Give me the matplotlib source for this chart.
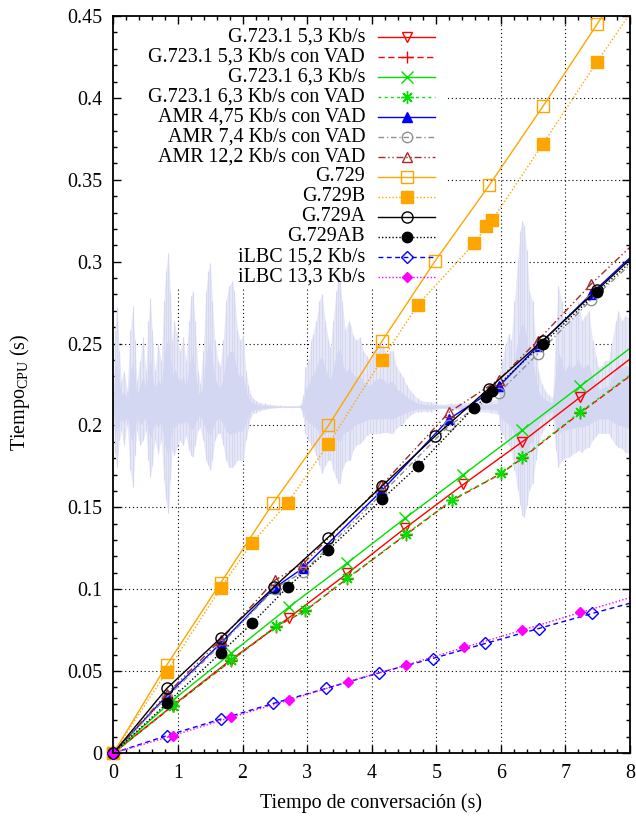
import numpy as np
import matplotlib
matplotlib.use("Agg")
import matplotlib.pyplot as plt
from matplotlib.lines import Line2D
from matplotlib.patches import Rectangle
from matplotlib.ticker import MultipleLocator, FormatStrFormatter

plt.rcParams['font.family'] = ['Liberation Serif', 'DejaVu Serif']
plt.rcParams['mathtext.fontset'] = 'custom'
plt.rcParams['mathtext.rm'] = 'Liberation Serif'
plt.rcParams['mathtext.it'] = 'Liberation Serif:italic'

# ---------------- data: CPU time vs. conversation time ----------------
t_g7231 = [0, 0.92, 1.82, 2.72, 3.62, 4.52, 5.42, 6.33, 7.23, 8.13]
g7231_53 = [0, 0.029, 0.057, 0.0827, 0.1096, 0.1374, 0.164, 0.190, 0.2173, 0.2445]
g7231_63 = [0, 0.0323, 0.0608, 0.0892, 0.116, 0.1435, 0.170, 0.197, 0.224, 0.251]

t_g7231_vad = [0, 0.92, 1.82, 2.51, 2.97, 3.62, 4.53, 5.25, 6.0, 6.33, 7.23, 8.13]
g7231_53_vad = [0, 0.0287, 0.0563, 0.077, 0.0868, 0.1065, 0.1333, 0.1543, 0.1705, 0.180, 0.2077, 0.234]
g7231_63_vad = [0, 0.0290, 0.0566, 0.0773, 0.0871, 0.1068, 0.1336, 0.1547, 0.1708, 0.1805, 0.2082, 0.2345]

t_amr = [0, 0.825, 1.66, 2.50, 2.94, 4.15, 5.20, 5.97, 6.57, 7.40, 8.30]
amr_475 = [0, 0.035, 0.067, 0.101, 0.113, 0.160, 0.204, 0.2238, 0.2484, 0.2803, 0.3135]
amr_74 = [0, 0.034, 0.066, 0.1004, 0.1106, 0.158, 0.200, 0.220, 0.2437, 0.2767, 0.3087]
amr_122 = [0, 0.036, 0.069, 0.1055, 0.1157, 0.1634, 0.2081, 0.228, 0.2518, 0.2864, 0.320]

t_g729 = [0, 0.825, 1.662, 2.478, 3.33, 4.158, 4.984, 5.82, 6.654, 7.49, 8.32]
g729 = [0, 0.0537, 0.104, 0.1529, 0.200, 0.2514, 0.3006, 0.3467, 0.395, 0.445, 0.495]

t_g729b = [0, 0.825, 1.662, 2.143, 2.70, 3.33, 4.158, 4.716, 5.589, 5.775, 5.868, 6.654, 7.49, 8.32]
g729b = [0, 0.0496, 0.1008, 0.1282, 0.1529, 0.1888, 0.2402, 0.2738, 0.3112, 0.3215, 0.3256, 0.3721, 0.422, 0.470]

t_g729a = [0, 0.825, 1.662, 2.488, 3.32, 4.158, 4.984, 5.81, 6.648, 7.49, 8.32]
g729a = [0, 0.0394, 0.0703, 0.1014, 0.1315, 0.163, 0.1935, 0.2224, 0.2518, 0.2827, 0.313]

t_g729ab = [0, 0.825, 1.662, 2.143, 2.70, 3.32, 4.158, 4.716, 5.578, 5.77, 5.864, 6.648, 7.49, 8.32]
g729ab = [0, 0.0303, 0.0612, 0.0791, 0.1014, 0.1238, 0.1549, 0.1752, 0.2108, 0.2173, 0.2213, 0.2498, 0.2813, 0.311]

t_ilbc15 = [0, 0.825, 1.662, 2.478, 3.295, 4.12, 4.943, 5.76, 6.586, 7.414, 8.24]
ilbc15 = [0, 0.0106, 0.0207, 0.0303, 0.0394, 0.049, 0.0577, 0.0669, 0.076, 0.0852, 0.094]

t_ilbc13 = [0, 0.918, 1.822, 2.726, 3.625, 4.535, 5.434, 6.33, 7.233, 8.14]
ilbc13 = [0, 0.0106, 0.0218, 0.0323, 0.0435, 0.0537, 0.0645, 0.075, 0.0858, 0.0965]

labels = [
    "G.723.1 5,3 Kb/s", "G.723.1 5,3 Kb/s con VAD", "G.723.1 6,3 Kb/s",
    "G.723.1 6,3 Kb/s con VAD", "AMR 4,75 Kb/s con VAD", "AMR 7,4 Kb/s con VAD",
    "AMR 12,2 Kb/s con VAD", "G.729", "G.729B", "G.729A", "G.729AB",
    "iLBC 15,2 Kb/s", "iLBC 13,3 Kb/s",
]

# speech signal envelope drawn behind the curves (time, upper, lower)
wave_t = [0.00, 0.02, 0.05, 0.09, 0.12, 0.16, 0.21, 0.26, 0.30, 0.33, 0.36, 0.41, 0.46, 0.50,
          0.54, 0.57, 0.60, 0.64, 0.69, 0.74, 0.78, 0.81, 0.85, 0.88, 0.91, 0.94, 0.98, 1.03,
          1.08, 1.12, 1.17, 1.20, 1.23, 1.26, 1.31, 1.34, 1.39, 1.43, 1.47, 1.50, 1.53, 1.57,
          1.62, 1.65, 1.70, 1.74, 1.79, 1.84, 1.87, 1.92, 1.96, 2.01, 2.05, 2.09, 2.12, 2.16,
          2.21, 2.27, 2.35, 2.43, 2.58, 2.89, 2.94, 2.97, 3.02, 3.06, 3.09, 3.14, 3.19, 3.23,
          3.28, 3.33, 3.36, 3.40, 3.45, 3.48, 3.51, 3.54, 3.59, 3.64, 3.67, 3.71, 3.76, 3.82,
          3.87, 3.92, 3.98, 4.02, 4.07, 4.13, 4.18, 4.23, 4.29, 4.33, 4.38, 4.44, 4.49, 4.54,
          4.60, 4.64, 4.71, 4.77, 4.85, 4.92, 5.00, 5.08, 5.23, 5.39, 5.53, 5.68, 5.84, 5.96,
          5.99, 6.02, 6.07, 6.12, 6.16, 6.21, 6.26, 6.30, 6.33, 6.36, 6.40, 6.44, 6.49, 6.54,
          6.58, 6.63, 6.69, 6.74, 6.80, 6.85, 6.89, 6.94, 6.98, 7.05, 7.09, 7.16, 7.20, 7.25,
          7.31, 7.36, 7.42, 7.47, 7.51, 7.56, 7.62, 7.67, 7.71, 7.78, 7.82, 7.87, 7.93, 7.98,
          8.00]
wave_hi = [0.2152, 0.258, 0.2726, 0.2457, 0.2274, 0.2335, 0.2213, 0.258, 0.273, 0.252, 0.2274,
           0.2396, 0.2537, 0.2335, 0.264, 0.278, 0.258, 0.2335, 0.250, 0.2396, 0.276, 0.2945,
           0.305, 0.282, 0.252, 0.264, 0.256, 0.2457, 0.2537, 0.2396, 0.264, 0.279, 0.282,
           0.264, 0.2335, 0.2256, 0.2457, 0.282, 0.2945, 0.299, 0.276, 0.252, 0.2396, 0.2366,
           0.252, 0.276, 0.285, 0.288, 0.282, 0.258, 0.252, 0.255, 0.2335, 0.2244, 0.2195,
           0.2165, 0.2152, 0.214, 0.2134, 0.2128, 0.2122, 0.2122, 0.2183, 0.2354, 0.2396, 0.252,
           0.256, 0.264, 0.276, 0.280, 0.264, 0.252, 0.2476, 0.264, 0.282, 0.288, 0.288, 0.276,
           0.258, 0.264, 0.262, 0.255, 0.252, 0.2537, 0.2457, 0.2427, 0.2396, 0.2457, 0.249,
           0.250, 0.249, 0.2427, 0.2457, 0.2457, 0.2366, 0.2323, 0.2293, 0.2244, 0.2213, 0.2195,
           0.2165, 0.2152, 0.2146, 0.2146, 0.2134, 0.2128, 0.2134, 0.214, 0.214, 0.2146, 0.2152,
           0.2165, 0.2335, 0.2396, 0.249, 0.256, 0.252, 0.276, 0.301, 0.319, 0.325, 0.322, 0.307,
           0.282, 0.276, 0.252, 0.2335, 0.2256, 0.2213, 0.2183, 0.2171, 0.258, 0.285, 0.276,
           0.258, 0.270, 0.264, 0.270, 0.276, 0.264, 0.267, 0.270, 0.252, 0.2427, 0.2354, 0.2366,
           0.2396, 0.2396, 0.249, 0.264, 0.270, 0.264, 0.267, 0.266, 0.264]
wave_lo = [0.2073, 0.1829, 0.1744, 0.1909, 0.1970, 0.1878, 0.2000, 0.1726, 0.1622, 0.1817, 0.1970,
           0.1878, 0.1909, 0.1970, 0.1787, 0.1683, 0.1756, 0.1909, 0.1829, 0.1909, 0.1665, 0.1543,
           0.1463, 0.1665, 0.1848, 0.1817, 0.1866, 0.1909, 0.1878, 0.1939, 0.1848, 0.1817, 0.1805,
           0.1878, 0.1970, 0.1988, 0.1909, 0.1787, 0.1756, 0.1726, 0.1787, 0.1909, 0.1951, 0.1951,
           0.1878, 0.1787, 0.1744, 0.1744, 0.1756, 0.1787, 0.1787, 0.1787, 0.1909, 0.1982, 0.2043,
           0.2073, 0.2079, 0.2091, 0.2098, 0.2104, 0.2110, 0.2110, 0.2049, 0.1951, 0.1909, 0.1878,
           0.1866, 0.1817, 0.1756, 0.1707, 0.1756, 0.1787, 0.1787, 0.1726, 0.1677, 0.1646, 0.1646,
           0.1726, 0.1775, 0.1787, 0.1787, 0.1848, 0.1878, 0.1890, 0.1909, 0.1939, 0.1951, 0.1951,
           0.1951, 0.1951, 0.1957, 0.1957, 0.1951, 0.1951, 0.1982, 0.2000, 0.2012, 0.2043, 0.2061,
           0.2073, 0.2085, 0.2085, 0.2085, 0.2085, 0.2098, 0.2104, 0.2098, 0.2091, 0.2091, 0.2085,
           0.2079, 0.2067, 0.1970, 0.1945, 0.1909, 0.1878, 0.1848, 0.1726, 0.1604, 0.1512, 0.1451,
           0.1439, 0.1512, 0.1604, 0.1646, 0.1787, 0.1878, 0.1951, 0.2000, 0.2031, 0.2049, 0.1848,
           0.1744, 0.1787, 0.1799, 0.1805, 0.1817, 0.1835, 0.1848, 0.1835, 0.1860, 0.1866, 0.1909,
           0.1933, 0.1951, 0.1951, 0.1951, 0.1951, 0.1921, 0.1878, 0.1866, 0.1860, 0.1835, 0.1829,
           0.1848]
wave_mid = 0.2113

# ---------------- styles ----------------
series = [
    (t_g7231, g7231_53, dict(color='#ff0000', ls='-', marker='v', mfc='none', ms=7.5)),
    (t_g7231_vad, g7231_53_vad, dict(color='#ff0000', ls=(0, (4.5, 2.5)), marker='+', ms=9)),
    (t_g7231, g7231_63, dict(color='#00e000', ls='-', marker='x', ms=8)),
    (t_g7231_vad, g7231_63_vad, dict(color='#00e000', ls=(0, (2, 2.5)), marker=(8, 2, 0), ms=9)),
    (t_amr, amr_475, dict(color='#0000ff', ls='-', marker='^', ms=6.5)),
    (t_amr, amr_74, dict(color='#909090', ls=(0, (4, 2, 1, 2)), marker='o', mfc='none', ms=7.5)),
    (t_amr, amr_122, dict(color='#a52a2a', ls=(0, (5, 2, 1, 2, 1, 2)), marker='^', mfc='none', ms=7.5)),
    (t_g729, g729, dict(color='#ffa500', ls='-', marker='s', mfc='none', ms=8.5)),
    (t_g729b, g729b, dict(color='#ffa500', ls=(0, (1, 1.5)), marker='s', ms=8)),
    (t_g729a, g729a, dict(color='#000000', ls='-', marker='o', mfc='none', ms=8)),
    (t_g729ab, g729ab, dict(color='#000000', ls=(0, (1, 1.5)), marker='o', ms=7.5)),
    (t_ilbc15, ilbc15, dict(color='#0000ff', ls=(0, (3.5, 2.5)), marker='D', mfc='none', ms=6)),
    (t_ilbc13, ilbc13, dict(color='#ff00ff', ls=(0, (1, 1.5)), marker='D', ms=5.5)),
]

FS = 14.4
fig = plt.figure(figsize=(6.36, 8.16), dpi=100)
ax = fig.add_axes([113.5 / 636, 1 - 753 / 816, 516.5 / 636, 737 / 816])
ax.set_xlim(0, 8)
ax.set_ylim(0, 0.45)

# grid, with the key area kept clear
grid_kw = dict(color='black', lw=0.8, ls=(0, (1, 2.5)), zorder=1)
for gx in range(1, 8):
    ax.axvline(gx, **grid_kw)
for gy in np.arange(0.05, 0.449, 0.05):
    ax.axhline(gy, **grid_kw)
ax.add_patch(Rectangle((0, 0.284), 5.17, 0.2, facecolor='white', edgecolor='none', zorder=1.5))

# speech signal in the background
wt = np.array(wave_t)
whi = np.array(wave_hi)
wlo = np.array(wave_lo)
ax.fill_between(wt, wlo, whi, color='#e6e7f7', lw=0, zorder=2)
ax.vlines(wt, wlo, whi, color='#d6d8f2', lw=0.8, zorder=2.05)
ax.fill_between(wt, wave_mid + 0.45 * (wlo - wave_mid), wave_mid + 0.45 * (whi - wave_mid),
                color='#d4d7f1', lw=0, zorder=2.1)

# curves
for i, (tx, ty, st) in enumerate(series):
    st = dict(st)
    marker = st.pop('marker')
    ms = st.pop('ms')
    mfc = st.pop('mfc', st['color'])
    ax.plot(tx, ty, color=st['color'], ls=st['ls'], lw=1.0, zorder=3 + i * 0.1)
    ax.plot(tx[:-1], ty[:-1], ls='none', marker=marker, ms=ms, mfc=mfc,
            mec=st['color'], mew=1.0, zorder=3.05 + i * 0.1, clip_on=False)

# key
for i, (lab, (tx, ty, st)) in enumerate(zip(labels, series)):
    st = dict(st)
    py = 36.7 + 20 * i
    ya = (753 - py) / 737
    xt = (365 - 113.5) / 516.5
    x1 = (378 - 113.5) / 516.5
    x2 = (435 - 113.5) / 516.5
    xm = (407 - 113.5) / 516.5
    ax.text(xt, ya, lab, transform=ax.transAxes, ha='right', va='center',
            fontsize=FS, zorder=10)
    ax.add_line(Line2D([x1, x2], [ya, ya], transform=ax.transAxes, color=st['color'],
                       ls=st['ls'], lw=1.0, zorder=10))
    ax.add_line(Line2D([xm], [ya], transform=ax.transAxes, ls='none', marker=st['marker'],
                       ms=st['ms'], mfc=st.get('mfc', st['color']), mec=st['color'],
                       mew=1.0, zorder=10))

# axes and ticks
for sp in ax.spines.values():
    sp.set_linewidth(1.3)
    sp.set_zorder(12)
ax.xaxis.set_major_locator(MultipleLocator(1))
ax.xaxis.set_minor_locator(MultipleLocator(0.2))
ax.yaxis.set_major_locator(MultipleLocator(0.05))
ax.yaxis.set_minor_locator(MultipleLocator(0.01))
ax.yaxis.set_major_formatter(FormatStrFormatter('%g'))
ax.xaxis.set_major_formatter(FormatStrFormatter('%g'))
ax.tick_params(which='both', direction='in', top=True, right=True, labelsize=FS, width=1.0)
ax.tick_params(which='major', length=6, pad=8)
ax.tick_params(which='minor', length=3)

fig.text(371.5 / 636, 1 - 803 / 816, 'Tiempo de conversación (s)', ha='center', va='center',
         fontsize=FS)
fig.text(20 / 636, 1 - 392 / 816, r'Tiempo$_{\mathrm{CPU}}$ (s)', ha='center', va='center',
         rotation=90, fontsize=FS)

fig.savefig('out.png', dpi=100)
